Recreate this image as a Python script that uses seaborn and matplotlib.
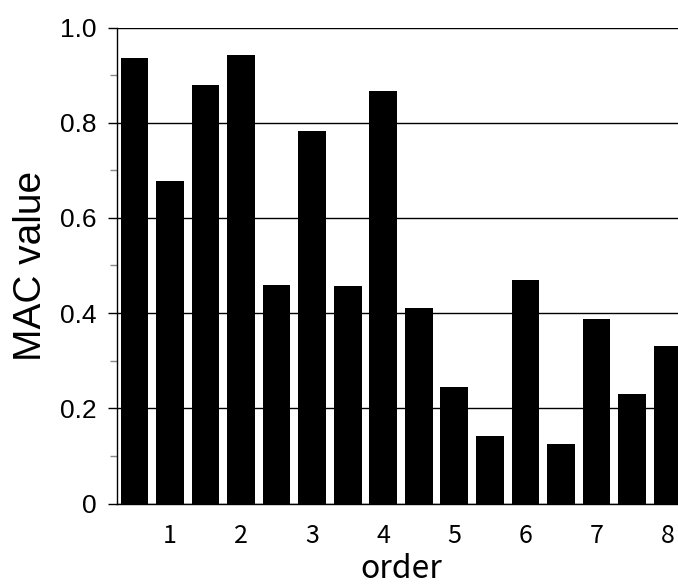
import matplotlib
matplotlib.use("Agg")
import matplotlib.pyplot as plt
import seaborn as sns
import pandas as pd
from matplotlib.ticker import MultipleLocator

# ---- data ----
mode_ids = list(range(1, 17))
mac_values = [0.935, 0.677, 0.879, 0.942, 0.458, 0.783, 0.456, 0.866,
              0.410, 0.245, 0.142, 0.469, 0.126, 0.387, 0.229, 0.330]
order_tick_labels = ["1", "2", "3", "4", "5", "6", "7", "8"]
y_tick_values = [0.0, 0.2, 0.4, 0.6, 0.8, 1.0]
y_tick_labels = ["0", "0.2", "0.4", "0.6", "0.8", "1.0"]

sns.set_theme(style="white")
plt.rcParams["font.family"] = ["Liberation Sans", "DejaVu Sans"]

fig = plt.figure(figsize=(6.78, 5.85), dpi=100)
ax = fig.add_axes([117 / 678, (585 - 503.5) / 585, (685 - 117) / 678, 476 / 585])

df = pd.DataFrame({"mode": mode_ids, "mac": mac_values})
sns.barplot(data=df, x="mode", y="mac", order=mode_ids, color="black",
            saturation=1, width=0.78, linewidth=0, ax=ax)

ax.set_xlim(-0.49, 15.49)
ax.set_ylim(0, 1)

ax.set_yticks(y_tick_values)
ax.set_yticklabels(y_tick_labels, fontsize=19)
ax.yaxis.set_minor_locator(MultipleLocator(0.1))
ax.tick_params(axis="y", which="major", left=True, length=6.5, width=1,
               color="black", pad=8, labelcolor="black")
ax.tick_params(axis="y", which="minor", left=True, length=5, width=1,
               color="#888888")

ax.set_xticks(range(1, 16, 2))
ax.set_xticklabels(order_tick_labels, fontsize=18,
                   fontfamily=["Noto Sans CJK JP", "DejaVu Sans"])
ax.tick_params(axis="x", length=0, pad=14, labelcolor="black")

ax.grid(axis="y", which="major", color="black", linewidth=1)
ax.grid(axis="x", visible=False)
ax.set_axisbelow(True)

for s in ["top", "right"]:
    ax.spines[s].set_visible(False)
for s in ["left", "bottom"]:
    ax.spines[s].set_color("black")
    ax.spines[s].set_linewidth(1)

ax.set_ylabel("MAC value", fontsize=28, labelpad=8, color="black")
ax.set_xlabel("order", fontsize=23, labelpad=3, color="black",
              fontfamily=["Noto Sans CJK JP", "DejaVu Sans"])

fig.savefig("out.png", dpi=100)
